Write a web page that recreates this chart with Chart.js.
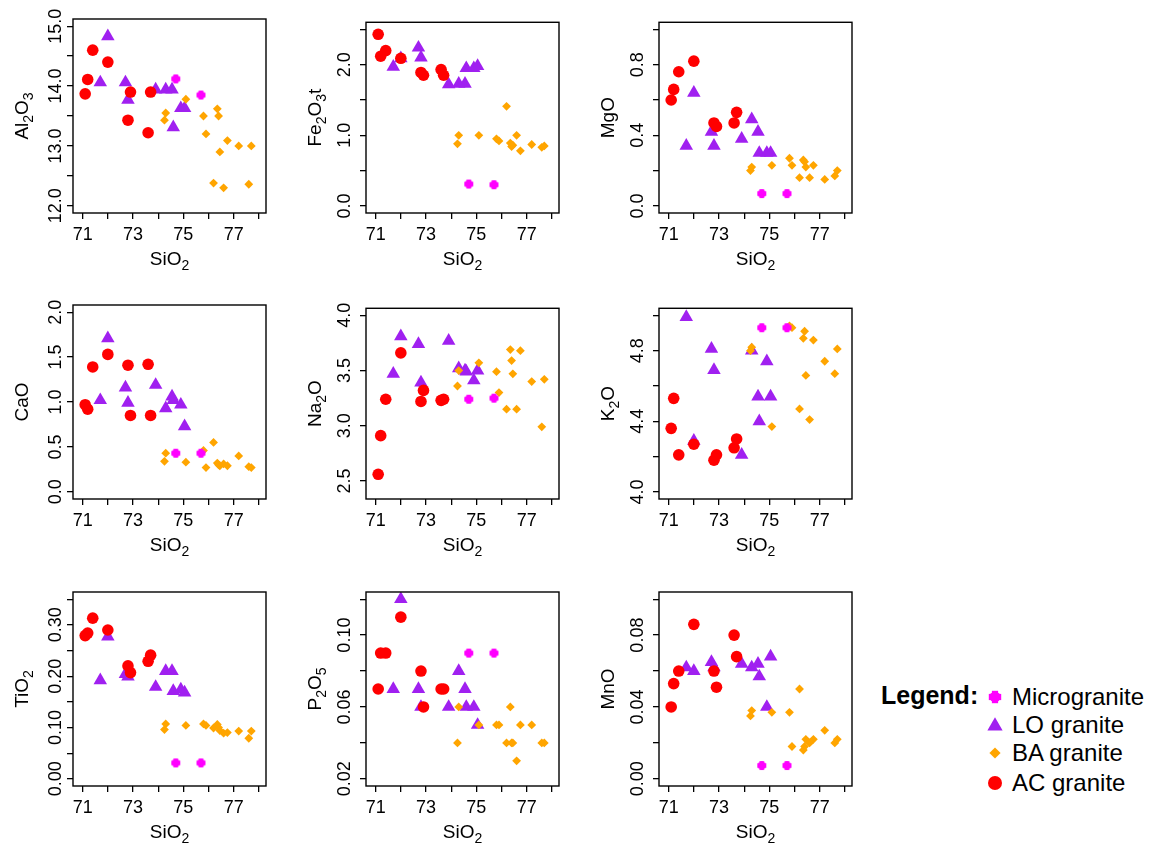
<!DOCTYPE html>
<html><head><meta charset="utf-8">
<script src="https://cdn.jsdelivr.net/npm/chart.js@4.4.1/dist/chart.umd.min.js"></script>
<style>
html,body{margin:0;padding:0;background:#fff;}
body{width:1150px;height:845px;position:relative;overflow:hidden;font-family:"Liberation Sans",Arial,Helvetica,sans-serif;color:#000;}
.lg{position:absolute;white-space:nowrap;line-height:1;}
</style></head><body>
<script>
// ---------------- DATA ----------------
const GROUPS = ['AC granite','Microgranite','BA granite','LO granite'];
const SIO2_LIM = [70.9, 78];
const SIO2_TICKS = ['71','73','75','77'];

const AC_SIO2 = [71.1, 71.2, 71.4, 72.0, 72.8, 72.9, 73.6, 73.7];
const AC_AL2O3 = [13.87, 14.11, 14.6, 14.4, 13.43, 13.9, 13.22, 13.9];
const AC_FE2O3T = [2.43, 2.12, 2.2, 2.09, 1.89, 1.85, 1.93, 1.85];
const AC_MGO = [0.60, 0.66, 0.76, 0.82, 0.47, 0.45, 0.47, 0.53];
const AC_CAO = [0.97, 0.92, 1.39, 1.53, 1.41, 0.85, 1.42, 0.85];
const AC_NA2O = [2.56, 2.91, 3.24, 3.66, 3.22, 3.32, 3.23, 3.24];
const AC_K2O = [4.36, 4.53, 4.21, 4.27, 4.18, 4.21, 4.25, 4.30];
const AC_TIO2 = [0.279, 0.284, 0.313, 0.29, 0.22, 0.207, 0.229, 0.241];
const AC_P2O5 = [0.07, 0.09, 0.09, 0.11, 0.08, 0.06, 0.07, 0.07];
const AC_MNO = [0.040, 0.053, 0.060, 0.086, 0.060, 0.051, 0.080, 0.068];

const LO_SIO2 = [71.7, 72.0, 72.7, 72.8, 73.9, 74.3, 74.55, 74.6, 74.9, 75.05];
const LO_AL2O3 = [14.06, 14.83, 14.06, 13.77, 13.94, 13.94, 13.94, 13.31, 13.63, 13.63];
const LO_FE2O3T = [1.97, 2.09, 2.24, 2.1, 1.72, 1.73, 1.73, 1.95, 1.95, 1.98];
const LO_MGO = [0.34, 0.64, 0.42, 0.34, 0.38, 0.49, 0.42, 0.30, 0.30, 0.30];
const LO_CAO = [1.02, 1.71, 1.16, 0.99, 1.19, 0.93, 1.06, 1.02, 0.97, 0.73];
const LO_NA2O = [3.47, 3.81, 3.74, 3.39, 3.77, 3.52, 3.50, 3.49, 3.41, 3.50];
const LO_K2O = [4.99, 4.29, 4.81, 4.69, 4.21, 4.80, 4.54, 4.40, 4.74, 4.54];
const LO_TIO2 = [0.192, 0.277, 0.204, 0.199, 0.179, 0.21, 0.21, 0.171, 0.174, 0.168];
const LO_P2O5 = [0.07, 0.12, 0.07, 0.06, 0.06, 0.08, 0.07, 0.06, 0.06, 0.05];
const LO_MNO = [0.062, 0.060, 0.065, 0.062, 0.064, 0.062, 0.064, 0.057, 0.040, 0.068];

const BA_SIO2 = [74.25, 74.3, 75.1, 75.8, 75.9, 76.2, 76.35, 76.4, 76.45, 76.6, 76.75, 77.2, 77.6, 77.7];
const BA_AL2O3 = [13.43, 13.55, 13.78, 13.5, 13.2, 12.38, 13.62, 13.5, 12.9, 12.3, 13.09, 13.0, 12.36, 13.0];
const BA_FE2O3T = [0.88, 1.0, 1.0, 0.95, 0.92, 1.41, 0.89, 0.84, 0.86, 1.0, 0.78, 0.87, 0.83, 0.85];
const BA_MGO = [0.20, 0.22, 0.23, 0.27, 0.23, 0.16, 0.26, 0.25, 0.22, 0.16, 0.23, 0.15, 0.17, 0.20];
const BA_CAO = [0.34, 0.43, 0.33, 0.46, 0.27, 0.55, 0.32, 0.30, 0.29, 0.31, 0.29, 0.40, 0.28, 0.27];
const BA_NA2O = [3.36, 3.50, 3.57, 3.49, 3.30, 3.15, 3.69, 3.59, 3.47, 3.15, 3.68, 3.40, 2.99, 3.42];
const BA_K2O = [4.80, 4.82, 4.37, 4.94, 4.93, 4.47, 4.87, 4.91, 4.66, 4.41, 4.86, 4.74, 4.67, 4.81];
const BA_TIO2 = [0.096, 0.107, 0.104, 0.107, 0.104, 0.099, 0.106, 0.100, 0.094, 0.089, 0.090, 0.093, 0.079, 0.093];
const BA_P2O5 = [0.04, 0.06, 0.05, 0.05, 0.05, 0.04, 0.06, 0.04, 0.04, 0.03, 0.05, 0.05, 0.04, 0.04];
const BA_MNO = [0.035, 0.038, 0.037, 0.037, 0.018, 0.050, 0.016, 0.018, 0.022, 0.020, 0.022, 0.027, 0.020, 0.022];

const MI_SIO2 = [74.7, 75.7];
const MI_AL2O3 = [14.12, 13.85];
const MI_FE2O3T = [0.31, 0.30];
const MI_MGO = [0.07, 0.07];
const MI_CAO = [0.43, 0.43];
const MI_NA2O = [3.24, 3.25];
const MI_K2O = [4.93, 4.93];
const MI_TIO2 = [0.031, 0.031];
const MI_P2O5 = [0.09, 0.09];
const MI_MNO = [0.0074, 0.0074];

const AL2O3_LIM = [12, 15], AL2O3_TICKS = ['12.0','13.0','14.0','15.0'];
const FE2O3T_LIM = [0, 2.5], FE2O3T_TICKS = ['0.0','1.0','2.0'];
const MGO_LIM = [0, 1], MGO_TICKS = ['0.0','0.4','0.8'];
const CAO_LIM = [0, 2], CAO_TICKS = ['0.0','0.5','1.0','1.5','2.0'];
const NA2O_LIM = [2.4, 4.0], NA2O_TICKS = ['2.5','3.0','3.5','4.0'];
const K2O_LIM = [4, 5], K2O_TICKS = ['4.0','4.4','4.8'];
const TIO2_LIM = [0, 0.35], TIO2_TICKS = ['0.00','0.10','0.20','0.30'];
const P2O5_LIM = [0.02, 0.12], P2O5_TICKS = ['0.02','0.06','0.10'];
const MNO_LIM = [0, 0.1], MNO_TICKS = ['0.00','0.04','0.08'];

// ---------------- LAYOUT / STYLE ----------------
const FONT = '"Liberation Sans", Arial, Helvetica, sans-serif';
const TICK_PX = 18, TITLE_PX = 19, SUB_PX = 14;
const COL_LEFT = [73, 366, 659], ROW_TOP = [19, 305, 592];
const COL_LABEL_GAP = [17, 21, 21];
const BOX_W = 193, BOX_H = 194;
const Y_AXIS_W = 72, X_AXIS_H = 62, PAD_T = 10, PAD_R = 14;
const COLORS = {ac:'#FF0000', mi:'#FF00FF', ba:'#FFA500', lo:'#A020F0'};

function microImage(r){
  const s = Math.ceil(r*2)+2, c = document.createElement('canvas');
  c.width = s; c.height = s;
  const g = c.getContext('2d'), m = s/2;
  g.fillStyle = COLORS.mi;
  g.beginPath(); g.arc(m, m, r*0.88, 0, Math.PI*2); g.fill();
  g.fillRect(m - r*0.5, m - r, r, r*2);
  g.fillRect(m - r, m - r*0.5, r*2, r);
  return c;
}
const MICRO_IMG = microImage(4.5);

function drawFormula(ctx, parts, x, y, rot){
  ctx.save();
  ctx.translate(x, y); ctx.rotate(rot);
  let total = 0;
  const widths = parts.map(([t, sub]) => {
    ctx.font = (sub ? SUB_PX : TITLE_PX) + 'px ' + FONT;
    const w = ctx.measureText(t).width; total += w; return w;
  });
  let cx = -total/2;
  const base = TITLE_PX*0.716/2;
  ctx.fillStyle = '#000'; ctx.textBaseline = 'alphabetic'; ctx.textAlign = 'left';
  parts.forEach(([t, sub], i) => {
    ctx.font = (sub ? SUB_PX : TITLE_PX) + 'px ' + FONT;
    ctx.fillText(t, cx, sub ? base + 5 : base);
    cx += widths[i];
  });
  ctx.restore();
}

const SIO2_TITLE = [['SiO',0],['2',1]];
const framePlugin = {
  id: 'frame',
  afterDraw(chart, args, opts){
    const {ctx, chartArea: a} = chart;
    ctx.save();
    ctx.strokeStyle = '#000'; ctx.lineWidth = 1.4;
    ctx.strokeRect(a.left, a.top, a.right - a.left, a.bottom - a.top);
    ctx.restore();
    drawFormula(ctx, SIO2_TITLE, (a.left + a.right)/2, a.bottom + 45, 0);
    drawFormula(ctx, opts.ytitle, a.left - 52, (a.top + a.bottom)/2, -Math.PI/2);
  }
};

const measureCtx = document.createElement('canvas').getContext('2d');
function widest(labels){
  measureCtx.font = TICK_PX + 'px ' + FONT;
  return Math.max(...labels.map(l => measureCtx.measureText(l).width));
}
function expand(lim){ const d = (lim[1]-lim[0])*0.04; return [lim[0]-d, lim[1]+d]; }
function pts(xs, ys){ return xs.map((x, i) => ({x, y: ys[i]})); }

const PANELS = [
  {t:[['Al',0],['2',1],['O',0],['3',1]], ys:[AC_AL2O3, MI_AL2O3, BA_AL2O3, LO_AL2O3], lim:AL2O3_LIM, step:0.5, labels:AL2O3_TICKS, dec:1},
  {t:[['Fe',0],['2',1],['O',0],['3',1],['t',0]], ys:[AC_FE2O3T, MI_FE2O3T, BA_FE2O3T, LO_FE2O3T], lim:FE2O3T_LIM, step:0.5, labels:FE2O3T_TICKS, dec:1},
  {t:[['MgO',0]], ys:[AC_MGO, MI_MGO, BA_MGO, LO_MGO], lim:MGO_LIM, step:0.2, labels:MGO_TICKS, dec:1},
  {t:[['CaO',0]], ys:[AC_CAO, MI_CAO, BA_CAO, LO_CAO], lim:CAO_LIM, step:0.5, labels:CAO_TICKS, dec:1},
  {t:[['Na',0],['2',1],['O',0]], ys:[AC_NA2O, MI_NA2O, BA_NA2O, LO_NA2O], lim:NA2O_LIM, step:0.5, labels:NA2O_TICKS, dec:1},
  {t:[['K',0],['2',1],['O',0]], ys:[AC_K2O, MI_K2O, BA_K2O, LO_K2O], lim:K2O_LIM, step:0.2, labels:K2O_TICKS, dec:1},
  {t:[['TiO',0],['2',1]], ys:[AC_TIO2, MI_TIO2, BA_TIO2, LO_TIO2], lim:TIO2_LIM, step:0.05, labels:TIO2_TICKS, dec:2},
  {t:[['P',0],['2',1],['O',0],['5',1]], ys:[AC_P2O5, MI_P2O5, BA_P2O5, LO_P2O5], lim:P2O5_LIM, step:0.02, labels:P2O5_TICKS, dec:2},
  {t:[['MnO',0]], ys:[AC_MNO, MI_MNO, BA_MNO, LO_MNO], lim:MNO_LIM, step:0.02, labels:MNO_TICKS, dec:2}
];
const XS = [AC_SIO2, MI_SIO2, BA_SIO2, LO_SIO2];
const STYLES = [
  {pointStyle:'circle', pointRadius:5.8, c:COLORS.ac},
  {pointStyle:MICRO_IMG, pointRadius:4.5, c:COLORS.mi},
  {pointStyle:'rectRot', pointRadius:4.4, c:COLORS.ba},
  {pointStyle:'triangle', pointRadius:7.8, c:COLORS.lo}
];

const xl = expand(SIO2_LIM);
PANELS.forEach((p, i) => {
  const col = i % 3, row = Math.floor(i / 3);
  const W = Y_AXIS_W + BOX_W + PAD_R, H = PAD_T + BOX_H + X_AXIS_H;
  const cv = document.createElement('canvas');
  cv.width = W; cv.height = H;
  cv.style.cssText = `position:absolute;left:${COL_LEFT[col]-Y_AXIS_W}px;top:${ROW_TOP[row]-PAD_T}px;width:${W}px;height:${H}px`;
  document.body.appendChild(cv);
  const yl = expand(p.lim);
  const ypad = COL_LABEL_GAP[col] - 6 - widest(p.labels)/2;
  new Chart(cv, {
    type: 'scatter',
    data: {
      datasets: p.ys.map((ys, k) => ({
        label: GROUPS[k],
        data: pts(XS[k], ys),
        pointStyle: STYLES[k].pointStyle,
        pointRadius: STYLES[k].pointRadius,
        backgroundColor: STYLES[k].c,
        borderColor: STYLES[k].c,
        pointBorderWidth: 0,
        borderWidth: 0
      }))
    },
    options: {
      responsive: false, animation: false, events: [],
      devicePixelRatio: 1,
      layout: {padding: {top: PAD_T, right: PAD_R, left: 0, bottom: 0}},
      plugins: {legend: {display: false}, tooltip: {enabled: false}, frame: {ytitle: p.t}},
      scales: {
        x: {
          type: 'linear', min: xl[0], max: xl[1],
          afterFit: s => { s.height = X_AXIS_H; },
          border: {display: false},
          grid: {display: true, drawOnChartArea: false, drawTicks: true, tickLength: 6, color: '#000', lineWidth: 1.3},
          ticks: {
            stepSize: 1, includeBounds: false, autoSkip: false, maxRotation: 0, minRotation: 0,
            padding: 5, color: '#000', font: {family: FONT, size: TICK_PX},
            callback: v => { const s = String(Math.round(v)); return SIO2_TICKS.includes(s) ? s : ''; }
          }
        },
        y: {
          type: 'linear', min: yl[0], max: yl[1],
          afterFit: s => { s.width = Y_AXIS_W; },
          border: {display: false},
          grid: {display: true, drawOnChartArea: false, drawTicks: true, tickLength: 6, color: '#000', lineWidth: 1.3},
          ticks: {
            stepSize: p.step, includeBounds: false, autoSkip: false, minRotation: 90, maxRotation: 90,
            crossAlign: 'center', padding: ypad, color: '#000', font: {family: FONT, size: TICK_PX},
            callback: v => { const s = v.toFixed(p.dec); return p.labels.includes(s) ? s : ''; }
          }
        }
      }
    },
    plugins: [framePlugin]
  });
});

// ---------------- LEGEND ----------------
function legendMarker(k, cx, cy){
  const s = 22, c = document.createElement('canvas');
  c.width = s; c.height = s;
  c.style.cssText = `position:absolute;left:${cx - s/2}px;top:${cy - s/2}px;width:${s}px;height:${s}px`;
  const g = c.getContext('2d'), m = s/2;
  g.fillStyle = STYLES[k].c;
  if (k === 0){ g.beginPath(); g.arc(m, m, 7, 0, Math.PI*2); g.fill(); }
  else if (k === 1){ const r = 6.2; g.beginPath(); g.arc(m, m, r*0.88, 0, Math.PI*2); g.fill(); g.fillRect(m-r*0.5, m-r, r, 2*r); g.fillRect(m-r, m-r*0.5, 2*r, r); }
  else if (k === 2){ const r = 5.6; g.beginPath(); g.moveTo(m, m-r); g.lineTo(m+r, m); g.lineTo(m, m+r); g.lineTo(m-r, m); g.closePath(); g.fill(); }
  else { const r = 8.8; g.beginPath(); g.moveTo(m, m - r); g.lineTo(m + r*0.866, m + r*0.5); g.lineTo(m - r*0.866, m + r*0.5); g.closePath(); g.fill(); }
  document.body.appendChild(c);
}
const LEGEND_TITLE = 'Legend:';
const LEGEND_ORDER = [1, 3, 2, 0];
const title = document.createElement('div');
title.className = 'lg';
title.style.cssText += 'left:881px;top:683px;font-size:25px;font-weight:bold;';
title.textContent = LEGEND_TITLE;
document.body.appendChild(title);
const LEG_Y = [697, 725, 753, 783];
LEGEND_ORDER.forEach((k, j) => {
  legendMarker(k, 995, LEG_Y[j] + (k === 3 ? 1 : 0));
  const d = document.createElement('div');
  d.className = 'lg';
  d.style.cssText += `left:1012px;top:${LEG_Y[j] - 12}px;font-size:24px;`;
  d.textContent = GROUPS[k];
  document.body.appendChild(d);
});
</script>
</body></html>
